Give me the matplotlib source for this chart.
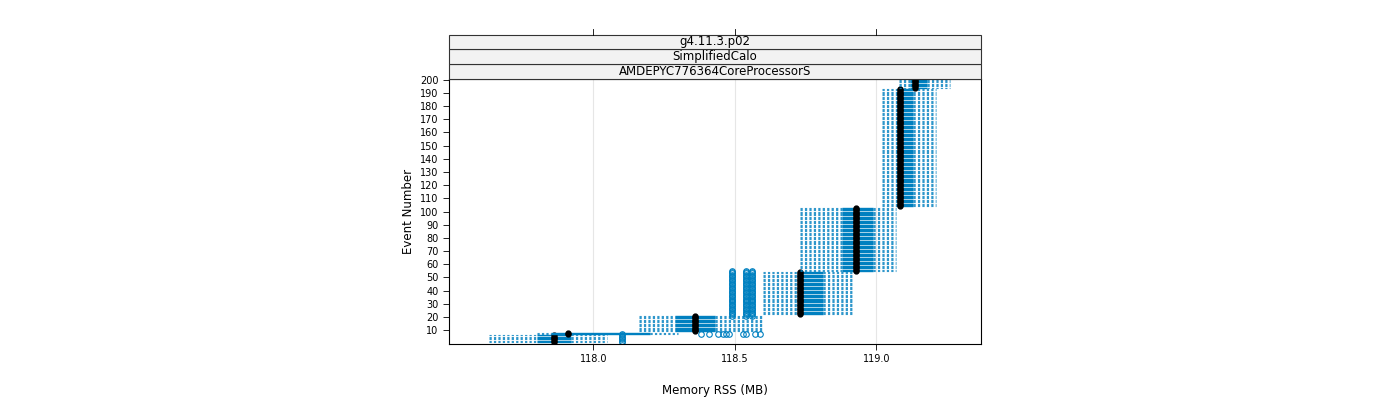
import matplotlib
matplotlib.use("Agg")
import matplotlib.pyplot as plt
import numpy as np
from matplotlib.patches import Rectangle

# groups of events: start, end, whisker-low, q1, median, q3, whisker-high
ev_start = [1, 7, 9, 22, 55, 104, 194]
ev_end = [6, 8, 21, 54, 103, 193, 200]
w_lo = [117.63, 117.80, 118.16, 118.60, 118.73, 119.02, 119.08]
q1 = [117.80, 117.85, 118.29, 118.73, 118.88, 119.08, 119.12]
med = [117.86, 117.91, 118.36, 118.73, 118.93, 119.085, 119.135]
q3 = [117.92, 118.20, 118.43, 118.81, 118.99, 119.13, 119.18]
w_hi = [118.05, 118.30, 118.60, 118.92, 119.07, 119.21, 119.26]
# outliers
out_x_row = [118.38, 118.41, 118.44, 118.46, 118.47, 118.48, 118.53, 118.54, 118.57, 118.59]
out_row_event = 7
out_col_x = [118.10, 118.49, 118.54, 118.56]
out_col_lo = [1, 21, 21, 21]
out_col_hi = [7, 55, 55, 55]

xticks = [118.0, 118.5, 119.0]
yticks = list(range(10, 201, 10))
strips = ["g4.11.3.p02", "SimplifiedCalo", "AMDEPYC776364CoreProcessorS"]

W, H = 1400, 400
fig = plt.figure(figsize=(14, 4), dpi=100)
L, R, B, T = 449/W, 981/W, 1-344/H, 1-79/H
ax = fig.add_axes([L, B, R-L, T-B])
col = "#0080C0"
for s, e, lo, a, m, b, hi in zip(ev_start, ev_end, w_lo, q1, med, q3, w_hi):
    ev = np.arange(s, e+1)
    ax.hlines(ev, lo, a, colors=col, linestyles=(0, (2, 2)), lw=0.8, alpha=0.8)
    ax.hlines(ev, b, hi, colors=col, linestyles=(0, (2, 2)), lw=0.8, alpha=0.8)
    ax.hlines(ev, a, b, colors=col, lw=1.0)
    ax.plot(np.full(len(ev), m), ev, 'o', color='black', ms=3.5)
ax.plot(out_x_row, [out_row_event]*len(out_x_row), 'o', mfc='none', mec=col, ms=4, mew=0.8)
for x, lo, hi in zip(out_col_x, out_col_lo, out_col_hi):
    ev = np.arange(lo, hi+1)
    ax.plot([x]*len(ev), ev, 'o', mfc='none', mec=col, ms=4, mew=0.8)

ax.set_xlim(117.49, 119.37)
ax.set_ylim(-0.5, 200.5)
ax.set_xticks(xticks)
ax.set_xticklabels([f"{t:.1f}" for t in xticks], fontsize=7)
ax.set_yticks(yticks)
ax.set_yticklabels([str(t) for t in yticks], fontsize=7)
ax.tick_params(length=4, width=0.6, direction='out')
ax.grid(axis='x', color='#e6e6e6', lw=0.8)
ax.set_axisbelow(True)
for sp in ax.spines.values():
    sp.set_linewidth(0.8)
ax.set_xlabel("Memory RSS (MB)", fontsize=8.5, labelpad=14)
ax.set_ylabel("Event Number", fontsize=8.5, labelpad=4)

sh = 14.8 / H
for i, txt in enumerate(reversed(strips)):
    y0 = T + i*sh
    fig.patches.append(Rectangle((L, y0), R-L, sh, transform=fig.transFigure,
                                 facecolor='#f2f2f2', edgecolor='#333333', lw=0.8))
    fig.text((L+R)/2, y0+sh/2, txt, ha='center', va='center', fontsize=8.5)
top = T + 3*sh
for t in xticks:
    xf = L + (t-117.49)/(119.37-117.49)*(R-L)
    fig.add_artist(plt.Line2D([xf, xf], [top, top+6/H], transform=fig.transFigure, color='black', lw=0.6))

fig.savefig("out.png", dpi=100)
